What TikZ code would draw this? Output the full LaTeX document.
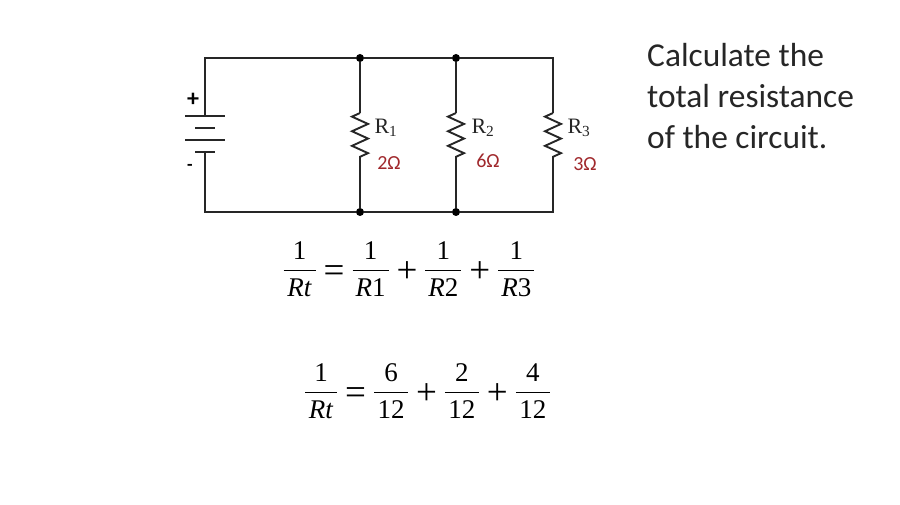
\documentclass[tikz,border=0pt]{standalone}
\usepackage{fontspec}
\setmainfont{Carlito}
\newfontfamily\labelfont{Liberation Serif}
\usetikzlibrary{positioning,decorations.pathmorphing}

\definecolor{wirecol}{HTML}{262626}
\definecolor{valuered}{HTML}{A0282C}

% Fraction with a fixed rule width
\newcommand{\fr}[3]{\frac{\hbox{\labelfont\rule[-8pt]{0pt}{8pt}#2}}{\makebox[#1][c]{\labelfont\rule{0pt}{25pt}#3}}}
\newcommand{\rt}{\textit{Rt}}
% Operator between two fractions
\newcommand{\op}[1]{\hskip 8pt\raisebox{-6pt}{\fontsize{37}{37}\labelfont #1}\hskip 8pt}

\begin{document}
\begin{tikzpicture}[%
    x=1pt, y=-1pt,               % Same units as the reference pixels
    node distance=4pt and 6pt,
    ]
% -------------------------------------------------
% A few styles
\tikzset{
  wire/.style={draw=wirecol, line width=1.9pt},
  plate/.style={draw=wirecol, line width=1.6pt},
  res/.style={wire, decorate, decoration={zigzag, mirror, segment length=14.6pt, amplitude=8pt}},
  dot/.style={circle, fill=black, inner sep=0pt, minimum size=8pt},
  rname/.style={inner sep=0pt, text=black!85, font=\labelfont\fontsize{22}{24}\selectfont},
  rval/.style={inner sep=0pt, text=valuered, font=\fontsize{20}{22}\selectfont},
  sign/.style={inner sep=0pt, font=\bfseries\fontsize{24}{26}\selectfont},
  eq/.style={inner sep=0pt, text=black, font=\fontsize{27}{32}\selectfont},
}
\useasboundingbox (0,0) rectangle (900,505);
\fill[white] (0,0) rectangle (900,505);
% -------------------------------------------------
% Start by placing the nodes
\coordinate (tl) at (205,58);
\coordinate (bl) at (205,212);
\node [dot] (t1) at (360,58) {};
\node [dot] (b1) at (360,212) {};
\node [dot] (t2) at (456,58) {};
\node [dot] (b2) at (456,212) {};
\coordinate (t3) at (553,58);
\coordinate (b3) at (553,212);

% resistor ends
\coordinate (r1a) at (360,113);
\coordinate (r1b) at (360,157);
\coordinate (r2a) at (456,113);
\coordinate (r2b) at (456,157);
\coordinate (r3a) at (553,113);
\coordinate (r3b) at (553,157);

% battery
\coordinate (p1) at (205,116);
\coordinate (p2) at (205,128);
\coordinate (p3) at (205,140);
\coordinate (p4) at (205,152);

\node [sign] (plus) at (193,100) {+};
\node [sign, font=\bfseries\fontsize{18}{20}\selectfont] (minus) at (190,167) {-};

\node [rname] (n1) at (386,128) {R\textsubscript{1}};
\node [rname] (n2) at (483,128) {R\textsubscript{2}};
\node [rname] (n3) at (579,128) {R\textsubscript{3}};
\node [rval] (v1) at (389,163) {2Ω};
\node [rval] (v2) at (488,161) {6Ω};
\node [rval] (v3) at (585,164) {3Ω};

\node [inner sep=0pt, anchor=north west, align=left, text=black!85, font=\fontsize{33.4}{41}\selectfont] (task) at (647,43)
  {Calculate the\\total resistance\\of the circuit.};

\node [eq] (eqa) at (409,269) {\nulldelimiterspace=0pt
  $\displaystyle \fr{32pt}{1}{\rt}\op{=}\fr{36pt}{1}{\textit{R}1}\op{+}\fr{36pt}{1}{\textit{R}2}\op{+}\fr{36pt}{1}{\textit{R}3}$};
\node [eq] (eqb) at (427.5,391) {\nulldelimiterspace=0pt
  $\displaystyle \fr{32pt}{1}{\rt}\op{=}\fr{34pt}{6}{12}\op{+}\fr{34pt}{2}{12}\op{+}\fr{34pt}{4}{12}$};

% -------------------------------------------------
% Wires
\draw[wire] (p1) -- (tl) -- (t1) -- (t2) -- (t3) -- (r3a);
\draw[wire] (p4) -- (bl) -- (b1) -- (b2) -- (b3) -- (r3b);
\draw[wire] (t1) -- (r1a);
\draw[wire] (r1b) -- (b1);
\draw[wire] (t2) -- (r2a);
\draw[wire] (r2b) -- (b2);

\draw[res] (r1a) -- (r1b);
\draw[res] (r2a) -- (r2b);
\draw[res] (r3a) -- (r3b);

\draw[plate] ([xshift=-20pt]p1) -- ([xshift=20pt]p1);
\draw[plate] ([xshift=-10pt]p2) -- ([xshift=10pt]p2);
\draw[plate] ([xshift=-20pt]p3) -- ([xshift=20pt]p3);
\draw[plate] ([xshift=-10pt]p4) -- ([xshift=10pt]p4);
% -------------------------------------------------
\end{tikzpicture}
\end{document}
